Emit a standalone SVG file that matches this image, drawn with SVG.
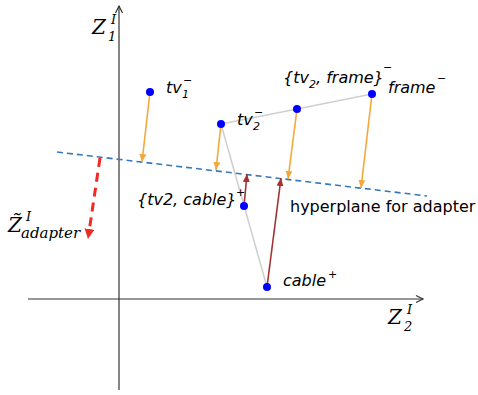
<svg xmlns="http://www.w3.org/2000/svg" width="478" height="395" viewBox="0 0 478 395">
<style>
.axis{stroke:#333;stroke-width:1.2;fill:none}
.gray{stroke:#cfcfcf;stroke-width:1.5;fill:none}
.hyp{stroke:#3878b8;stroke-width:1.6;stroke-dasharray:6,4;fill:none}
.org{stroke:#f5a83a;stroke-width:1.6;fill:none}
.brn{stroke:#a33232;stroke-width:1.6;fill:none}
.red{stroke:#ee2c24;stroke-width:3;stroke-dasharray:9,6;fill:none}
.dot{fill:#0000ff}
.lbl{font-family:"DejaVu Sans",sans-serif;font-style:italic;font-size:16px;fill:#000}
.sm{font-size:11px}
.plain{font-family:"DejaVu Sans",sans-serif;font-size:16px;fill:#000}
.z{font-family:"DejaVu Serif",serif;font-style:italic;font-size:20px;fill:#000}
.zs{font-size:13px}
</style>
<defs>
<marker id="ax" markerWidth="10" markerHeight="10" refX="8" refY="5" orient="auto" markerUnits="userSpaceOnUse">
<path d="M1,1.5 L8,5 L1,8.5" fill="none" stroke="#333" stroke-width="1.2"/>
</marker>
<marker id="ao" markerWidth="10" markerHeight="12" refX="8" refY="4" orient="auto" markerUnits="userSpaceOnUse">
<path d="M0,0.5 L8,4 L0,7.5 Z" fill="#f5a83a"/>
</marker>
<marker id="ab" markerWidth="10" markerHeight="12" refX="8" refY="4" orient="auto" markerUnits="userSpaceOnUse">
<path d="M0,0.5 L8,4 L0,7.5 Z" fill="#a33232"/>
</marker>
<marker id="ar" markerWidth="12" markerHeight="12" refX="3" refY="5" orient="auto" markerUnits="userSpaceOnUse">
<path d="M0,0 L10,5 L0,10 Z" fill="#ee2c24"/>
</marker>
</defs>
<rect width="478" height="395" fill="#fff"/>
<g id="axes">
<line class="axis" x1="119" y1="390" x2="119" y2="6" marker-end="url(#ax)"/>
<line class="axis" x1="28" y1="299" x2="423" y2="299" marker-end="url(#ax)"/>
<text class="z" x="92" y="34">Z<tspan class="zs" x="111" y="24">I</tspan><tspan class="zs" x="108" y="41">1</tspan></text>
<text class="z" x="388" y="324">Z<tspan class="zs" x="407" y="314">I</tspan><tspan class="zs" x="404" y="331">2</tspan></text>
</g>
<g id="connectors">
<polyline class="gray" points="221,124 297,109 372,94"/>
<line class="gray" x1="221" y1="124" x2="267" y2="287"/>
<line class="hyp" x1="57" y1="152" x2="427" y2="196"/>
<line class="org" x1="150" y1="92" x2="142" y2="162" marker-end="url(#ao)"/>
<line class="org" x1="221" y1="124" x2="216" y2="170" marker-end="url(#ao)"/>
<line class="org" x1="297" y1="109" x2="288" y2="179" marker-end="url(#ao)"/>
<line class="org" x1="372" y1="94" x2="361" y2="188" marker-end="url(#ao)"/>
<line class="brn" x1="244" y1="206" x2="247" y2="174" marker-end="url(#ab)"/>
<line class="brn" x1="267" y1="287" x2="281" y2="178" marker-end="url(#ab)"/>
<line class="red" x1="100" y1="158" x2="89" y2="232" marker-end="url(#ar)"/>
</g>
<g id="tv1">
<circle class="dot" cx="150" cy="92" r="4"/>
<text class="lbl" x="166" y="93">tv<tspan class="sm" x="182" y="98">1</tspan><tspan class="sm" x="183" y="84">−</tspan></text>
</g>
<g id="tv2">
<circle class="dot" cx="221" cy="124" r="4"/>
<text class="lbl" x="237" y="125">tv<tspan class="sm" x="253" y="130">2</tspan><tspan class="sm" x="254" y="116">−</tspan></text>
</g>
<g id="tv2frame">
<circle class="dot" cx="297" cy="109" r="4"/>
<text class="lbl" x="283" y="83">{tv<tspan class="sm" x="309" y="88">2</tspan><tspan x="316" y="83">, frame}</tspan><tspan class="sm" x="383" y="71">−</tspan></text>
</g>
<g id="frame">
<circle class="dot" cx="372" cy="94" r="4"/>
<text class="lbl" x="388" y="93">frame<tspan class="sm" x="437" y="82">−</tspan></text>
</g>
<g id="tv2cable">
<circle class="dot" cx="244" cy="206" r="4"/>
<text class="lbl" x="137" y="205">{tv2, cable}<tspan class="sm" x="236" y="196">+</tspan></text>
</g>
<g id="cable">
<circle class="dot" cx="267" cy="287" r="4"/>
<text class="lbl" x="283" y="286">cable<tspan class="sm" x="328" y="278">+</tspan></text>
</g>
<g id="hyperplane">
<text class="plain" x="290" y="212">hyperplane for adapter</text>
</g>
<g id="zadapter">
<text class="z" x="8" y="232">Z̃<tspan class="zs" x="26" y="221">I</tspan><tspan x="21" y="238" style="font-size:15px">adapter</tspan></text>
</g>
</svg>
